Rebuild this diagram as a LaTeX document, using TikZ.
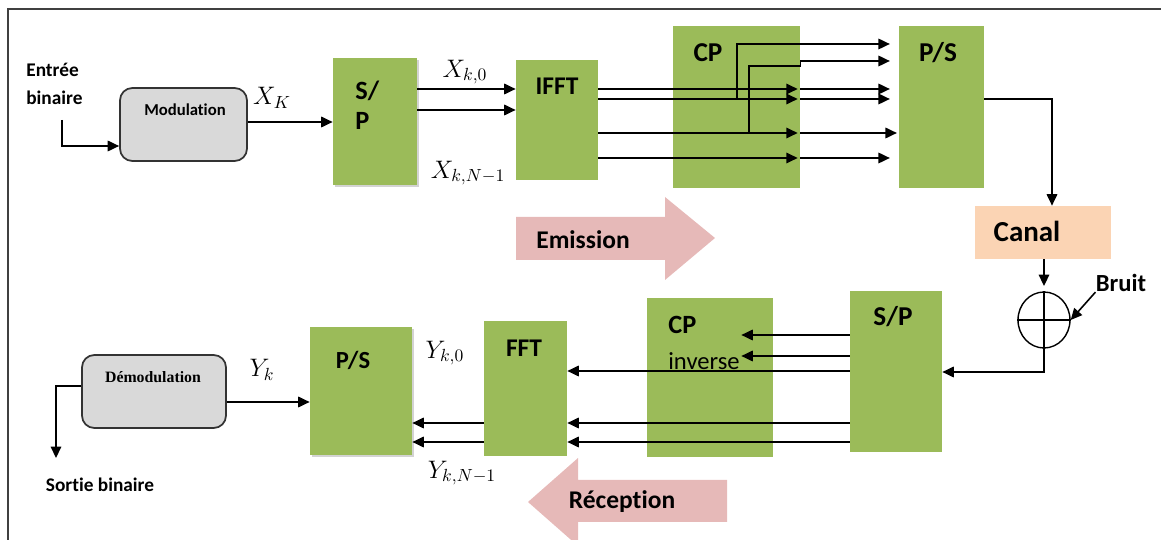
\documentclass[tikz,border=0pt]{standalone}
\usepackage{fontspec}
\setmainfont{Carlito}[Ligatures=NoCommon]
\newfontfamily\demodfont{Liberation Serif}
\usetikzlibrary{arrows.meta, calc, shapes.geometric, shadows}
\definecolor{blkgreen}{HTML}{9BBB59}
\definecolor{canalpeach}{HTML}{FBD4B4}
\definecolor{dirpink}{HTML}{E6B9B8}
\definecolor{modgray}{HTML}{D9D9D9}

\begin{document}
\begin{tikzpicture}[x=0.02cm, y=-0.02cm, font=\bfseries\fontsize{14.5}{17}\selectfont,
  arr/.style={-{Triangle[length=6.5pt, width=6pt]}, line width=0.9pt},
  blk/.style={fill=blkgreen, inner sep=0pt},
  shd/.style={drop shadow={shadow xshift=1.2pt, shadow yshift=-1.2pt, opacity=0.35}},
  modbox/.style={draw=black!80, line width=1pt, fill=modgray, rounded corners=7pt, inner sep=0pt},
  dir/.style={fill=dirpink, draw=none},
  lbl/.style={inner sep=0pt}]

  \useasboundingbox (0,0) rectangle (1161,540);
  \draw[line width=1pt, black!75] (8,9) rectangle (1180,560);

  % ---- Emission ----
  \node[modbox, minimum width=2.54cm, minimum height=1.46cm] (mod) at (183.5,124.5) {};
  \node[blk, shd, minimum width=1.68cm, minimum height=2.54cm] (sp) at (375,121.5) {};
  \node[blk, minimum width=1.64cm, minimum height=2.4cm] (ifft) at (557,120) {};
  \node[blk, minimum width=2.54cm, minimum height=3.24cm] (cp) at (736.5,107) {};
  \node[blk, minimum width=1.7cm, minimum height=3.24cm] (ps) at (941.5,107) {};
  \node[fill=canalpeach, inner sep=0pt, minimum width=2.72cm, minimum height=1.06cm] (canal) at (1043,232.5) {};

  \node[lbl, align=left, anchor=west, font=\bfseries\fontsize{11}{16}\selectfont] (entree) at (26,84) {Entrée\\binaire};
  \node[lbl, font=\bfseries\fontsize{9.5}{11}\selectfont] (modtxt) at (185,110) {Modulation};
  \node[lbl, font=\fontsize{14.5}{16}\selectfont] (xk) at (272,98) {$X_K$};
  \node[lbl, align=left, anchor=west, font=\bfseries\fontsize{15}{17}\selectfont] (sptxt) at (355,105) {S/\\P};
  \node[lbl, font=\fontsize{14.5}{16}\selectfont] (xk0) at (465,72) {$X_{k,0}$};
  \node[lbl, font=\fontsize{14.5}{16}\selectfont] (xkn) at (468,173) {$X_{k,N-1}$};
  \node[lbl] (iffttxt) at (557,86) {IFFT};
  \node[lbl, font=\bfseries\fontsize{15.5}{17}\selectfont] (cptxt) at (708,53) {CP};
  \node[lbl, font=\bfseries\fontsize{15.5}{17}\selectfont] (pstxt) at (938,53) {P/S};
  \node[lbl, font=\bfseries\fontsize{16.5}{18}\selectfont] (canaltxt) at (1027,231) {Canal};

  \coordinate (in) at (62,120);
  \draw[arr] (in) |- (mod.west |- 0,146);
  \draw[arr] (mod.east |- 0,122) -- (sp.west |- 0,122);
  \draw[arr] (sp.east |- 0,89) -- (ifft.west |- 0,89);
  \draw[arr] (sp.east |- 0,110) -- (ifft.west |- 0,110);

  % IFFT -> CP -> P/S
  \foreach \y/\s in {89/5pt, 99/5pt, 133/1pt, 158/5pt} {
    \draw[arr] (ifft.east |- 0,\y) -- ([xshift=-1.5pt]cp.east |- 0,\y);
    \draw[arr, shorten >=\s] (cp.east |- 0,\y) -- (ps.west |- 0,\y);
  }
  \coordinate (cpa) at (737,99);
  \coordinate (cpb) at (749,133);
  \draw[arr, shorten >=5pt] (cpa) |- (ps.west |- 0,44);
  \draw[arr, shorten >=5pt] (cpb) |- (cp.east |- 0,66) |- (ps.west |- 0,61);

  \draw[arr] (ps.east |- 0,99) -| ([xshift=0.18cm]canal.north);

  % ---- direction arrows ----
  \fill[dir] (516,217) -- (665,217) -- (665,197) -- (715,238) -- (665,280) -- (665,260) -- (516,260) -- cycle;
  \node[lbl] (emis) at (583,240) {Emission};
  \fill[dir] (727,480) -- (578,480) -- (578,458) -- (528,502) -- (578,546) -- (578,522) -- (727,522) -- cycle;
  \node[lbl] (recep) at (622,502) {Réception};

  % ---- Canal + bruit ----
  \node[ellipse, draw, line width=0.8pt, inner sep=0pt, minimum width=1.04cm, minimum height=1.12cm] (add) at (1044,320) {};
  \draw[line width=0.8pt] (add.north) -- (add.south) (add.west) -- (add.east);
  \node[lbl, font=\bfseries\fontsize{14}{16}\selectfont] (bruit) at (1121,283) {Bruit};
  \draw[arr, shorten >=3pt] (canal.south -| add.north) -- (add.north);
  \draw[arr] (bruit.south west) -- (add.east);

  % ---- Reception ----
  \node[blk, minimum width=1.84cm, minimum height=3.22cm] (sprx) at (896,371.5) {};
  \node[blk, minimum width=2.52cm, minimum height=3.18cm] (cpinv) at (710,377.5) {};
  \node[blk, minimum width=1.66cm, minimum height=2.7cm] (fft) at (525.5,388.5) {};
  \node[blk, shd, minimum width=2.04cm, minimum height=2.56cm] (psrx) at (361,391) {};
  \node[modbox, minimum width=2.88cm, minimum height=1.46cm] (demod) at (154,391.5) {};

  \node[lbl, font=\bfseries\fontsize{15.5}{17}\selectfont] (sprxtxt) at (893,317) {S/P};
  \node[lbl, align=left, anchor=west, font=\bfseries\fontsize{15}{21}\selectfont] (cpinvtxt) at (668,343) {CP\\\mdseries\fontsize{14}{21}\selectfont inverse};
  \node[lbl] (ffttxt) at (524,348) {FFT};
  \node[lbl, font=\bfseries\fontsize{14}{16}\selectfont] (psrxtxt) at (353,360) {P/S};
  \node[lbl, font=\demodfont\bfseries\fontsize{9}{11}\selectfont] (demodtxt) at (153,377) {Démodulation};
  \node[lbl, font=\fontsize{14.5}{16}\selectfont] (yk0) at (445,353) {$Y_{k,0}$};
  \node[lbl, font=\fontsize{14.5}{16}\selectfont] (ykn) at (462,473) {$Y_{k,N-1}$};
  \node[lbl, font=\fontsize{14.5}{16}\selectfont] (yk) at (262,370) {$Y_k$};
  \node[lbl, font=\bfseries\fontsize{11}{13}\selectfont] (sortie) at (100,485) {Sortie binaire};

  \draw[arr] (add.south) |- (sprx.east |- 0,372);
  \draw[arr] (sprx.west |- 0,335) -- ([xshift=-0.64cm]cpinv.east |- 0,335);
  \draw[arr] (sprx.west |- 0,356) -- ([xshift=-0.64cm]cpinv.east |- 0,356);
  \foreach \y in {371,423,442}
    \draw[arr] (sprx.west |- 0,\y) -- (fft.east |- 0,\y);
  \foreach \y in {423,442}
    \draw[arr] (fft.west |- 0,\y) -- (psrx.east |- 0,\y);
  \draw[arr] (demod.east |- 0,402) -- (psrx.west |- 0,402);
  \coordinate (out) at (56,458);
  \draw[arr] (demod.west |- 0,386) -| (out);

\end{tikzpicture}
\end{document}
